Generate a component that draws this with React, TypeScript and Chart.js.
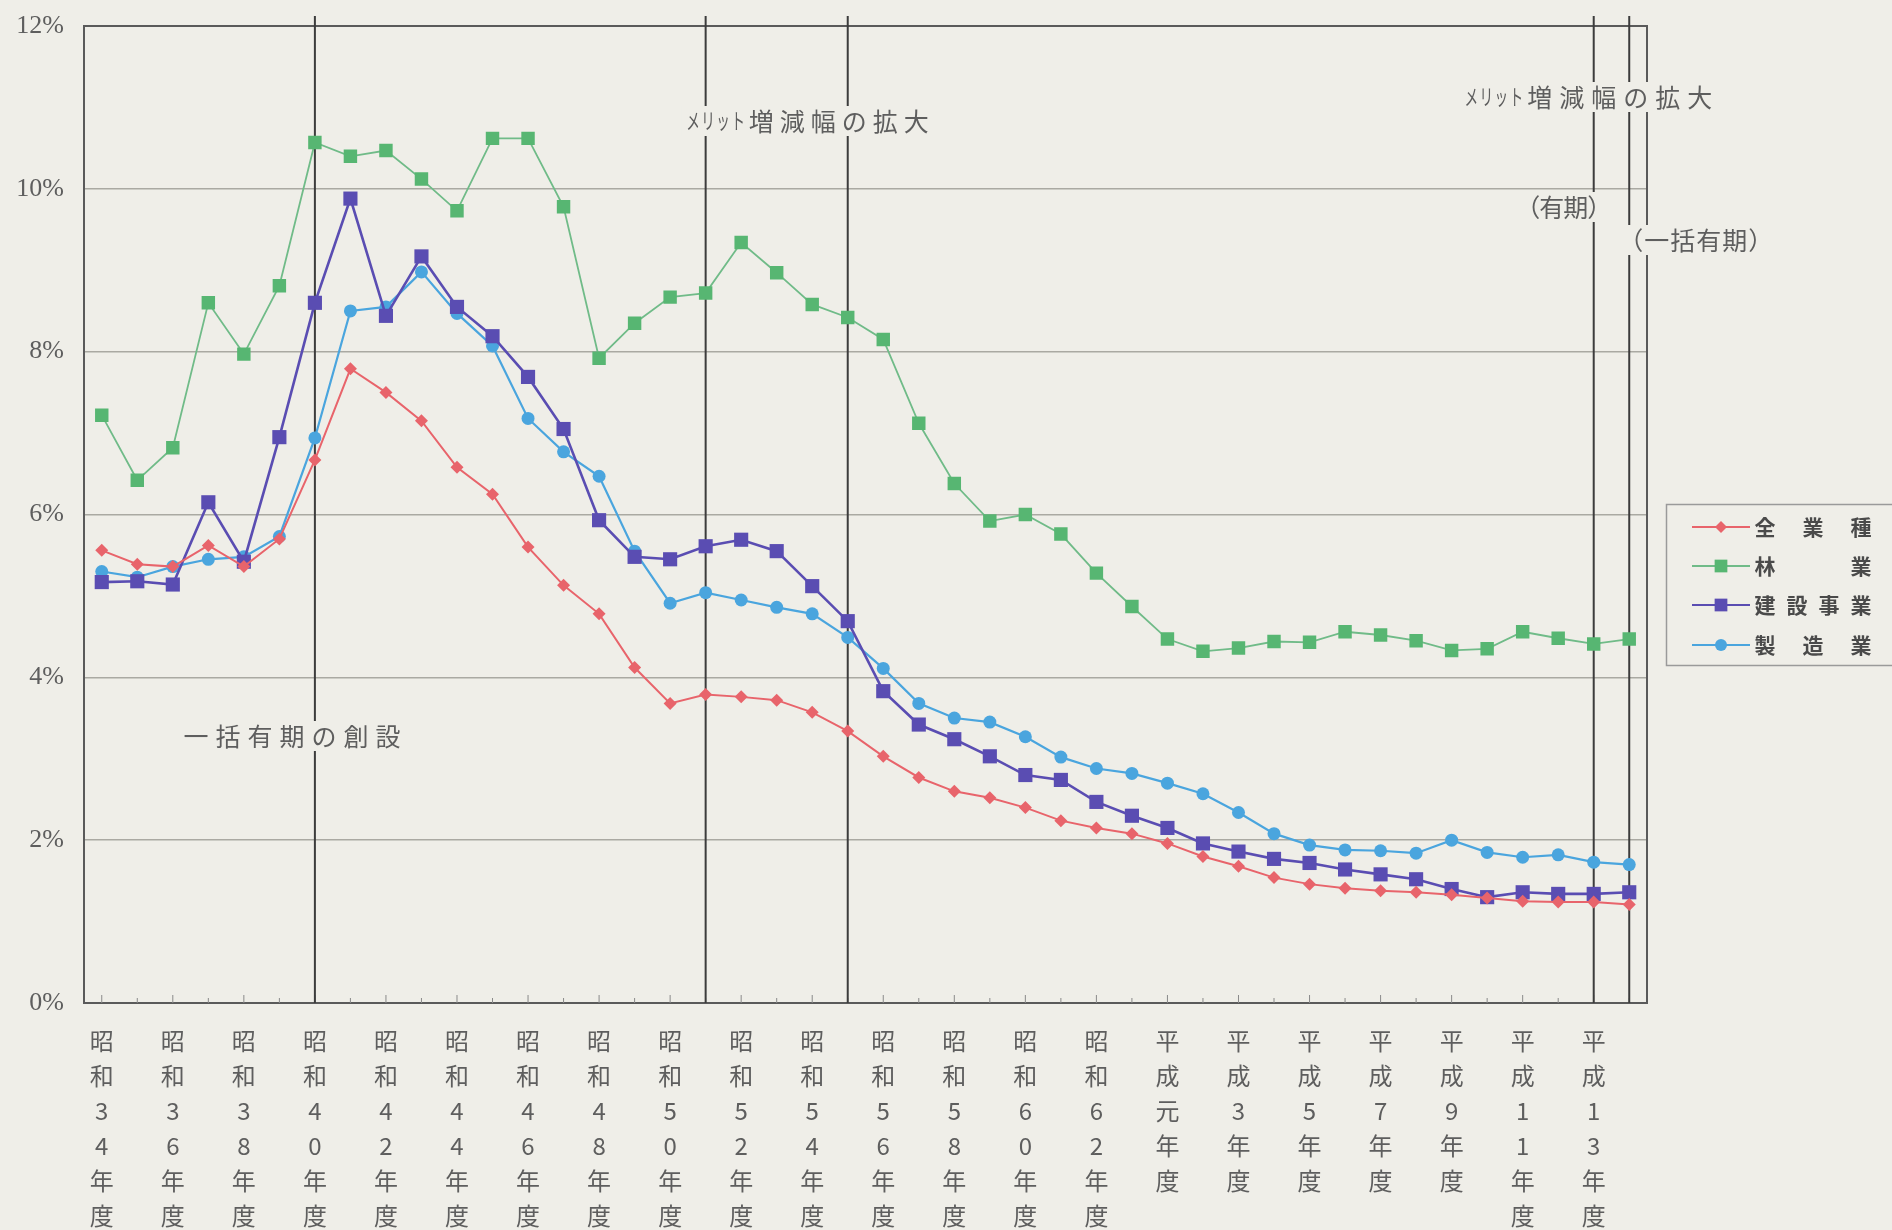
import React, { useEffect, useRef } from 'react';
import { Chart, registerables } from 'chart.js';

Chart.register(...registerables);

// ---- data ----
const years: string[] = [
  '昭和34年度', '昭和35年度', '昭和36年度', '昭和37年度', '昭和38年度', '昭和39年度',
  '昭和40年度', '昭和41年度', '昭和42年度', '昭和43年度', '昭和44年度', '昭和45年度',
  '昭和46年度', '昭和47年度', '昭和48年度', '昭和49年度', '昭和50年度', '昭和51年度',
  '昭和52年度', '昭和53年度', '昭和54年度', '昭和55年度', '昭和56年度', '昭和57年度',
  '昭和58年度', '昭和59年度', '昭和60年度', '昭和61年度', '昭和62年度', '昭和63年度',
  '平成元年度', '平成2年度', '平成3年度', '平成4年度', '平成5年度', '平成6年度',
  '平成7年度', '平成8年度', '平成9年度', '平成10年度', '平成11年度', '平成12年度',
  '平成13年度', '平成14年度',
];

const allIndustries: number[] = [
  5.56, 5.39, 5.36, 5.62, 5.36, 5.7, 6.67, 7.79, 7.5, 7.15, 6.58, 6.25, 5.6, 5.13, 4.78,
  4.12, 3.68, 3.79, 3.76, 3.72, 3.57, 3.34, 3.03, 2.77, 2.6, 2.52, 2.4, 2.24, 2.15, 2.08,
  1.96, 1.8, 1.68, 1.54, 1.46, 1.41, 1.38, 1.36, 1.33, 1.29, 1.25, 1.24, 1.24, 1.21,
];

const forestry: number[] = [
  7.22, 6.42, 6.82, 8.6, 7.97, 8.81, 10.57, 10.4, 10.47, 10.12, 9.73, 10.62, 10.62, 9.78,
  7.92, 8.35, 8.67, 8.72, 9.34, 8.97, 8.58, 8.42, 8.15, 7.12, 6.38, 5.92, 6.0, 5.76, 5.28,
  4.87, 4.47, 4.32, 4.36, 4.44, 4.43, 4.56, 4.52, 4.45, 4.33, 4.35, 4.56, 4.48, 4.41, 4.47,
];

const construction: number[] = [
  5.17, 5.18, 5.14, 6.15, 5.42, 6.95, 8.6, 9.88, 8.44, 9.17, 8.55, 8.19, 7.69, 7.05, 5.93,
  5.48, 5.45, 5.61, 5.69, 5.55, 5.12, 4.69, 3.83, 3.42, 3.24, 3.03, 2.8, 2.74, 2.47, 2.3,
  2.15, 1.96, 1.86, 1.77, 1.72, 1.64, 1.58, 1.52, 1.4, 1.3, 1.36, 1.34, 1.34, 1.36,
];

const manufacturing: number[] = [
  5.3, 5.23, 5.36, 5.45, 5.48, 5.73, 6.94, 8.5, 8.55, 8.98, 8.47, 8.07, 7.18, 6.77, 6.47,
  5.55, 4.91, 5.04, 4.95, 4.86, 4.78, 4.49, 4.11, 3.68, 3.5, 3.45, 3.27, 3.02, 2.88, 2.82,
  2.7, 2.57, 2.34, 2.08, 1.94, 1.88, 1.87, 1.84, 2.0, 1.85, 1.79, 1.82, 1.73, 1.7,
];

const seriesNames: string[] = ['全業種', '林業', '建設事業', '製造業'];
const yTicks: number[] = [0, 2, 4, 6, 8, 10, 12];
const eventIndices: number[] = [6, 17, 21, 42, 43];

// ---- styles ----
const BG = '#efeee8';
const TEXT = '#5e5e5e';
const JP = '"Noto Sans CJK JP", "Noto Sans", sans-serif';
const colors = {
  red: '#e8646b',
  green: '#57b672',
  greenLine: '#70bb88',
  purple: '#5a4db2',
  blue: '#4aa5de',
};
const styles = [
  { color: colors.red, line: colors.red, point: 'rectRot', r: 6.5, w: 2 },
  { color: colors.green, line: colors.greenLine, point: 'rect', r: 9.5, w: 1.8 },
  { color: colors.purple, line: colors.purple, point: 'rect', r: 10, w: 2.6 },
  { color: colors.blue, line: colors.blue, point: 'circle', r: 6.5, w: 2.2 },
];

function drawMarker(ctx: CanvasRenderingContext2D, kind: string, x: number, y: number, r: number, color: string) {
  ctx.fillStyle = color;
  ctx.beginPath();
  if (kind === 'circle') {
    ctx.arc(x, y, r, 0, Math.PI * 2);
  } else if (kind === 'rectRot') {
    ctx.moveTo(x, y - r);
    ctx.lineTo(x + r, y);
    ctx.lineTo(x, y + r);
    ctx.lineTo(x - r, y);
    ctx.closePath();
  } else {
    const s = r * Math.SQRT1_2;
    ctx.rect(x - s, y - s, 2 * s, 2 * s);
  }
  ctx.fill();
}

type Seg = { text: string; size: number; pitch: number; sx: number };

function drawSegments(ctx: CanvasRenderingContext2D, segs: Seg[], x0: number, cy: number) {
  let total = 0;
  segs.forEach((s) => (total += s.pitch * s.text.length));
  ctx.fillStyle = BG;
  ctx.fillRect(x0 - 4, cy - 15, total + 8, 30);
  ctx.fillStyle = TEXT;
  ctx.textBaseline = 'middle';
  ctx.textAlign = 'center';
  let x = x0;
  segs.forEach((s) => {
    ctx.font = `${s.size}px ${JP}`;
    for (const ch of s.text.split('')) {
      const cx = x + s.pitch / 2;
      ctx.save();
      ctx.translate(cx, cy);
      ctx.scale(s.sx, 1);
      ctx.fillText(ch, 0, 0);
      ctx.restore();
      x += s.pitch;
    }
  });
}

const annotationPlugin = {
  id: 'annotations',
  beforeDraw(chart: any) {
    const ctx: CanvasRenderingContext2D = chart.ctx;
    ctx.save();
    ctx.fillStyle = BG;
    ctx.fillRect(0, 0, chart.width, chart.height);
    ctx.restore();
  },
  beforeDatasetsDraw(chart: any) {
    const ctx: CanvasRenderingContext2D = chart.ctx;
    const a = chart.chartArea;
    const x = chart.scales.x;
    ctx.save();
    // plot frame
    ctx.strokeStyle = '#5a5a5a';
    ctx.lineWidth = 2;
    ctx.strokeRect(a.left, a.top, a.right - a.left, a.bottom - a.top);
    // small inward ticks along bottom
    ctx.lineWidth = 1;
    ctx.strokeStyle = '#8a8a8a';
    for (let i = 0; i < years.length; i++) {
      const px = x.getPixelForValue(i);
      ctx.beginPath();
      ctx.moveTo(px, a.bottom);
      ctx.lineTo(px, a.bottom - (i % 2 === 0 ? 8 : 5));
      ctx.stroke();
    }
    // event lines
    ctx.strokeStyle = '#3c3c3c';
    ctx.lineWidth = 2;
    eventIndices.forEach((idx) => {
      const px = x.getPixelForValue(idx);
      ctx.beginPath();
      ctx.moveTo(px, a.top - 10);
      ctx.lineTo(px, a.bottom);
      ctx.stroke();
    });
    // annotation texts
    const p6 = x.getPixelForValue(6);
    drawSegments(ctx, [{ text: '一括有期の創設', size: 25, pitch: 32, sx: 1 }], p6 - 135, a.top + 710);
    const p17 = x.getPixelForValue(17);
    drawSegments(
      ctx,
      [
        { text: 'メリット', size: 22, pitch: 15, sx: 0.62 },
        { text: '増減幅の拡大', size: 25, pitch: 31, sx: 1 },
      ],
      p17 - 20,
      a.top + 95,
    );
    const p42 = x.getPixelForValue(42);
    drawSegments(
      ctx,
      [
        { text: 'メリット', size: 22, pitch: 15, sx: 0.62 },
        { text: '増減幅の拡大', size: 25, pitch: 32, sx: 1 },
      ],
      p42 - 130,
      a.top + 71,
    );
    drawSegments(ctx, [{ text: '（有期）', size: 25, pitch: 24, sx: 1 }], p42 - 78, a.top + 181);
    drawSegments(ctx, [{ text: '（一括有期）', size: 25, pitch: 26, sx: 1 }], p42 + 24, a.top + 214);
    ctx.restore();
  },
  afterDraw(chart: any) {
    const ctx: CanvasRenderingContext2D = chart.ctx;
    ctx.save();
    const bx = 1666;
    const by = 504;
    ctx.fillStyle = BG;
    ctx.fillRect(bx, by, 240, 161);
    ctx.strokeStyle = '#9a9a9a';
    ctx.lineWidth = 1.5;
    ctx.strokeRect(bx + 0.5, by + 0.5, 240, 161);
    const rows = [527, 566, 605, 645];
    ctx.textBaseline = 'middle';
    ctx.textAlign = 'center';
    seriesNames.forEach((name, i) => {
      const st = styles[i];
      const y = rows[i];
      ctx.strokeStyle = st.line;
      ctx.lineWidth = 2;
      ctx.beginPath();
      ctx.moveTo(1692, y);
      ctx.lineTo(1750, y);
      ctx.stroke();
      drawMarker(ctx, st.point, 1721, y, st.point === 'rect' ? 9 : 6, st.color);
      const chars = name.split('');
      ctx.fillStyle = '#4a4a4a';
      ctx.font = `bold 21px ${JP}`;
      const x0 = 1765;
      const x1 = 1861;
      chars.forEach((ch, k) => {
        const cx = chars.length === 1 ? x0 : x0 + ((x1 - x0) * k) / (chars.length - 1);
        ctx.fillText(ch, cx, y);
      });
    });
    ctx.restore();
  },
};

export default function App() {
  const ref = useRef<HTMLCanvasElement | null>(null);

  useEffect(() => {
    if (!ref.current) return;
    const data = [allIndustries, forestry, construction, manufacturing];
    const chart = new Chart(ref.current, {
      type: 'line',
      data: {
        labels: years,
        datasets: seriesNames.map((name, i) => ({
          label: name,
          data: data[i],
          borderColor: styles[i].line,
          backgroundColor: styles[i].color,
          pointBackgroundColor: styles[i].color,
          pointBorderColor: styles[i].color,
          pointBorderWidth: 0,
          pointStyle: styles[i].point as any,
          pointRadius: styles[i].r,
          borderWidth: styles[i].w,
          tension: 0,
          fill: false,
        })),
      },
      options: {
        responsive: false,
        animation: false,
        devicePixelRatio: 1,
        layout: { padding: { top: 26, right: 245, left: 0, bottom: 0 } },
        plugins: {
          legend: { display: false },
          tooltip: { enabled: false },
        },
        scales: {
          x: {
            type: 'category',
            offset: true,
            grid: { display: false, drawTicks: false },
            border: { display: false },
            ticks: {
              autoSkip: false,
              maxRotation: 0,
              minRotation: 0,
              padding: 20,
              color: TEXT,
              font: { family: JP, size: 24, lineHeight: '35px' } as any,
              callback: function (this: any, value: any, index: number) {
                const lbl: string = this.getLabelForValue(value);
                return index % 2 === 0 ? lbl.split('') : '';
              },
            },
            afterFit: (scale: any) => {
              scale.height = 227;
              scale.paddingLeft = 0;
              scale.paddingRight = 0;
            },
          },
          y: {
            min: yTicks[0],
            max: yTicks[yTicks.length - 1],
            afterBuildTicks: (scale: any) => {
              scale.ticks = yTicks.map((v) => ({ value: v }));
            },
            grid: { color: '#aaa9a2', lineWidth: 1.5, drawTicks: false },
            border: { display: false },
            ticks: {
              padding: 20,
              color: TEXT,
              font: { family: '"Liberation Serif", serif', size: 26 },
              callback: (v: any) => `${v}%`,
            },
            afterFit: (scale: any) => {
              scale.width = 84;
              scale.paddingTop = 0;
              scale.paddingBottom = 0;
            },
          },
        },
      },
      plugins: [annotationPlugin],
    });
    return () => chart.destroy();
  }, []);

  return (
    <div style={{ position: 'fixed', left: 0, top: 0, width: 1892, height: 1230, background: BG }}>
      <canvas ref={ref} width={1892} height={1230} style={{ display: 'block' }} />
    </div>
  );
}
